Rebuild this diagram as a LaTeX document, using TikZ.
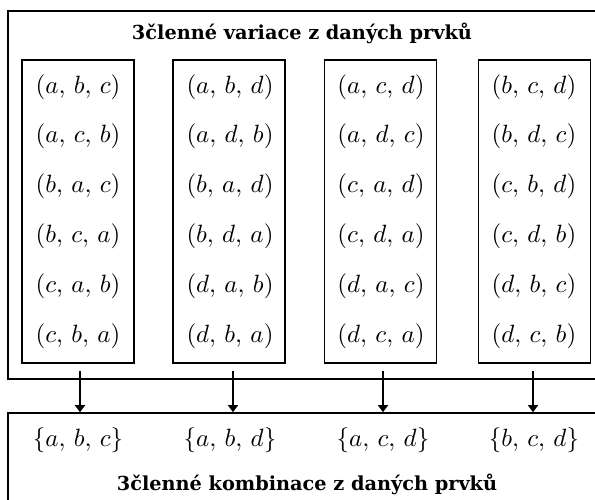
\documentclass[tikz,border=0pt]{standalone}
\usepackage{fontspec}
\usetikzlibrary{arrows.meta,calc}
\newfontfamily\headfont{DejaVu Serif}

% one tuple / set, enlarged italic math with a little extra gap after the commas
\newcommand{\tup}[1]{\scalebox{2.5}{$#1$}}

\tikzset{
  frame/.style={draw, line width=1.6pt, rectangle, inner sep=0pt},
  group/.style={draw, line width=1.2pt, rectangle, inner sep=0pt,
                minimum width=112pt, minimum height=303pt},
  item/.style={inner sep=0pt, anchor=center},
  heading/.style={font=\headfont\bfseries\fontsize{19.3}{20}\selectfont, inner sep=0pt},
  arr/.style={line width=1.2pt, -{Triangle[length=7pt,width=10pt]}}
}

\begin{document}
\begin{tikzpicture}[x=1pt, y=-1pt]
\useasboundingbox (0,0) rectangle (595,499);
\clip (0,0) rectangle (595,499);

% outer frames (they run past the right and bottom edges)
\node[frame, minimum width=612pt, minimum height=368pt] (var) at (314,195) {};
\node[frame, minimum width=612pt, minimum height=120pt] (komb) at (314,473) {};

\node[heading] (tvar) at (302,33) {3členné variace z daných prvků};
\node[heading] (tkomb) at (307,484) {3členné kombinace z daných prvků};

% the four groups of variations
\node[group] (g1) at (78,211.5) {};
\node[group] (g2) at (229,211.5) {};
\node[group] (g3) at (380.5,211.5) {};
\node[group] (g4) at (534.5,211.5) {};

\foreach \name/\x/\a/\b/\c/\d/\e/\f in {
  g1/78/{a,\, b,\, c}/{a,\, c,\, b}/{b,\, a,\, c}/{b,\, c,\, a}/{c,\, a,\, b}/{c,\, b,\, a},
  g2/230/{a,\, b,\, d}/{a,\, d,\, b}/{b,\, a,\, d}/{b,\, d,\, a}/{d,\, a,\, b}/{d,\, b,\, a},
  g3/381/{a,\, c,\, d}/{a,\, d,\, c}/{c,\, a,\, d}/{c,\, d,\, a}/{d,\, a,\, c}/{d,\, c,\, a},
  g4/534/{b,\, c,\, d}/{b,\, d,\, c}/{c,\, b,\, d}/{c,\, d,\, b}/{d,\, b,\, c}/{d,\, c,\, b}} {
  \node[item] (\name-1) at (\x,87)  {\tup{(\a)}};
  \node[item] (\name-2) at (\x,136) {\tup{(\b)}};
  \node[item] (\name-3) at (\x,186) {\tup{(\c)}};
  \node[item] (\name-4) at (\x,236) {\tup{(\d)}};
  \node[item] (\name-5) at (\x,286) {\tup{(\e)}};
  \node[item] (\name-6) at (\x,336) {\tup{(\f)}};
}

% the resulting combinations
\node[item] (s1) at (78,440)  {\tup{\{a,\, b,\, c\}}};
\node[item] (s2) at (230,440) {\tup{\{a,\, b,\, d\}}};
\node[item] (s3) at (383,440) {\tup{\{a,\, c,\, d\}}};
\node[item] (s4) at (534,440) {\tup{\{b,\, c,\, d\}}};

% arrows from each group down to the combinations frame
\foreach \g/\x in {g1/80, g2/233, g3/383, g4/533} {
  \coordinate (\g-top) at (\x,371);
  \draw[arr] (\g-top) -- (\g-top |- komb.north);
}
\end{tikzpicture}
\end{document}
